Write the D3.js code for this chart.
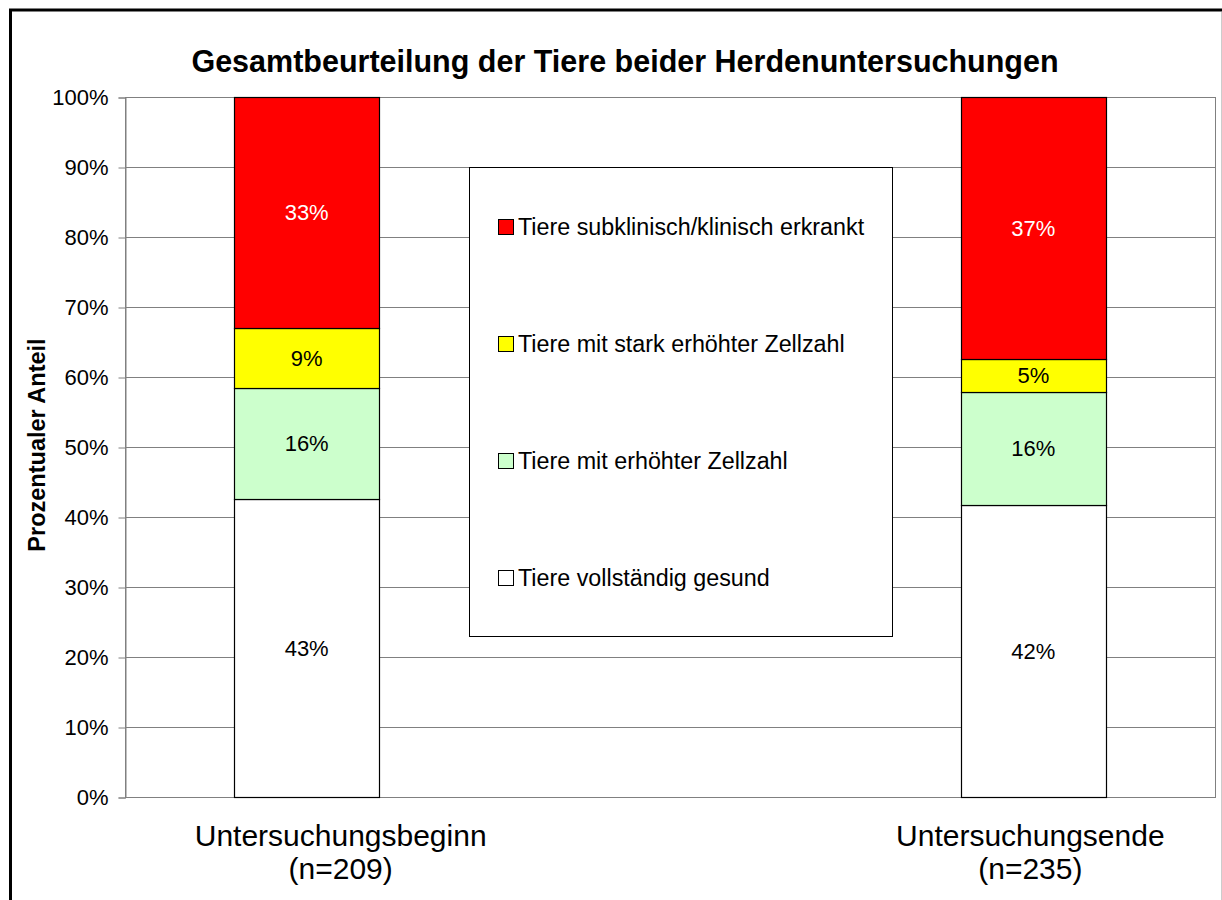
<!DOCTYPE html>
<html>
<head>
<meta charset="utf-8">
<title>Gesamtbeurteilung</title>
<script src="https://cdn.jsdelivr.net/npm/d3@7"></script>
<style>
    html, body { margin: 0; padding: 0; background: #fff; }
    svg { display: block; font-family: "Liberation Sans", Arial, sans-serif; }
</style>
</head>
<body>
<script>
    // data
    var categories = ["Untersuchungsbeginn", "Untersuchungsende"];
    var sampleSizes = ["(n=209)", "(n=235)"];
    var seriesNames = ["Tiere vollständig gesund", "Tiere mit erhöhter Zellzahl",
                       "Tiere mit stark erhöhter Zellzahl", "Tiere subklinisch/klinisch erkrankt"];
    var gesund   = [42.6, 41.7];
    var erhoeht  = [15.8, 16.2];
    var stark    = [8.6, 4.7];
    var erkrankt = [33.0, 37.4];
    var yTicks = [0, 10, 20, 30, 40, 50, 60, 70, 80, 90, 100];
    var colors = ["#FFFFFF", "#CCFFCC", "#FFFF00", "#FF0000"];
    var labelColors = ["#000", "#000", "#000", "#fff"];

    var W = 1222, H = 900;
    var pLeft = 125, pRight = 1215, pTop = 97, pBottom = 797;
    // category labels are not quite centred under their bars in the original
    var catLabelShift = [34, -3];

    var svg = d3.select("body").append("svg").attr("width", W).attr("height", H);

    // outer frame
    svg.append("rect").attr("x", 10.5).attr("y", 10).attr("width", 1240).attr("height", 920)
        .attr("fill", "#fff").attr("stroke", "#000").attr("stroke-width", 3);
    svg.append("line").attr("x1", 1221.5).attr("x2", 1221.5).attr("y1", 12).attr("y2", H)
        .attr("stroke", "#ccc");

    var x = d3.scaleBand().domain(categories).range([pLeft, pRight])
        .paddingInner(0.8).paddingOuter(0.15);
    var y = d3.scaleLinear().domain([0, 100]).range([pBottom, pTop]);

    // gridlines
    svg.append("g").selectAll("line").data(yTicks.slice(1)).join("line")
        .attr("x1", pLeft).attr("x2", pRight)
        .attr("y1", function (d) { return Math.round(y(d)) + 0.5; })
        .attr("y2", function (d) { return Math.round(y(d)) + 0.5; })
        .attr("stroke", "#808080");

    // plot area border
    svg.append("rect").attr("x", pLeft + 0.5).attr("y", pTop + 0.5)
        .attr("width", pRight - pLeft).attr("height", pBottom - pTop)
        .attr("fill", "none").attr("stroke", "#808080");

    // y axis
    var yAxis = svg.append("g").attr("transform", "translate(" + (pLeft + 0.5) + ",0.5)")
        .call(d3.axisLeft(y).tickValues(yTicks).tickSize(7).tickPadding(10)
            .tickFormat(function (d) { return d + "%"; }));
    yAxis.select(".domain").attr("stroke", "#808080");
    yAxis.selectAll(".tick line").attr("stroke", "#808080");
    yAxis.selectAll("text").attr("font-size", 22).attr("fill", "#000")
        .attr("font-family", "Liberation Sans, Arial, sans-serif");

    // stacked bars
    var rows = categories.map(function (c, i) {
        return { cat: c, gesund: gesund[i], erhoeht: erhoeht[i], stark: stark[i], erkrankt: erkrankt[i] };
    });
    var keys = ["gesund", "erhoeht", "stark", "erkrankt"];
    var stack = d3.stack().keys(keys)(rows);

    var layers = svg.append("g").selectAll("g").data(stack).join("g")
        .attr("fill", function (d, i) { return colors[i]; });

    layers.selectAll("rect").data(function (d) { return d; }).join("rect")
        .attr("x", function (d) { return Math.round(x(d.data.cat)) + 0.5; })
        .attr("width", Math.round(x.bandwidth()))
        .attr("y", function (d) { return Math.round(y(d[1])) + 0.5; })
        .attr("height", function (d) { return Math.round(y(d[0])) - Math.round(y(d[1])); })
        .attr("stroke", "#000").attr("stroke-width", 1.2);

    layers.each(function (layer, li) {
        d3.select(this).selectAll("text").data(layer).join("text")
            .attr("x", function (d) { return x(d.data.cat) + x.bandwidth() / 2; })
            .attr("y", function (d) { return (y(d[0]) + y(d[1])) / 2; })
            .attr("dy", "0.35em").attr("text-anchor", "middle")
            .attr("font-size", 22).attr("fill", labelColors[li])
            .text(function (d) { return Math.round(d[1] - d[0]) + "%"; });
    });

    // category labels
    function catX(d, i) { return x(d) + x.bandwidth() / 2 + catLabelShift[i]; }
    var xl = svg.append("g").selectAll("text").data(categories).join("text")
        .attr("text-anchor", "middle").attr("font-size", 30).attr("fill", "#000")
        .attr("x", catX).attr("y", 846);
    xl.append("tspan").text(function (d) { return d; });
    xl.append("tspan").attr("x", catX)
        .attr("dy", 33).text(function (d, i) { return sampleSizes[i]; });

    // title
    svg.append("text").attr("x", 625).attr("y", 72).attr("text-anchor", "middle")
        .attr("font-size", 30.5).attr("font-weight", "bold")
        .text("Gesamtbeurteilung der Tiere beider Herdenuntersuchungen");

    // y axis title
    svg.append("text").attr("transform", "translate(45,445) rotate(-90)")
        .attr("text-anchor", "middle").attr("font-size", 23.5).attr("font-weight", "bold")
        .text("Prozentualer Anteil");

    // legend
    var legend = svg.append("g");
    legend.append("rect").attr("x", 469.5).attr("y", 167.5).attr("width", 423).attr("height", 469)
        .attr("fill", "#fff").attr("stroke", "#000");
    var legendOrder = [3, 2, 1, 0];
    var legendY = d3.scalePoint().domain(legendOrder).range([227, 578]);
    var items = legend.selectAll("g.item").data(legendOrder).join("g")
        .attr("class", "item")
        .attr("transform", function (d) { return "translate(498," + legendY(d) + ")"; });
    items.append("rect").attr("x", 0.5).attr("y", -7.5).attr("width", 15).attr("height", 15)
        .attr("fill", function (d) { return colors[d]; }).attr("stroke", "#000");
    items.append("text").attr("x", 20).attr("dy", "0.36em").attr("font-size", 23.3)
        .text(function (d) { return seriesNames[d]; });
</script>
</body>
</html>
